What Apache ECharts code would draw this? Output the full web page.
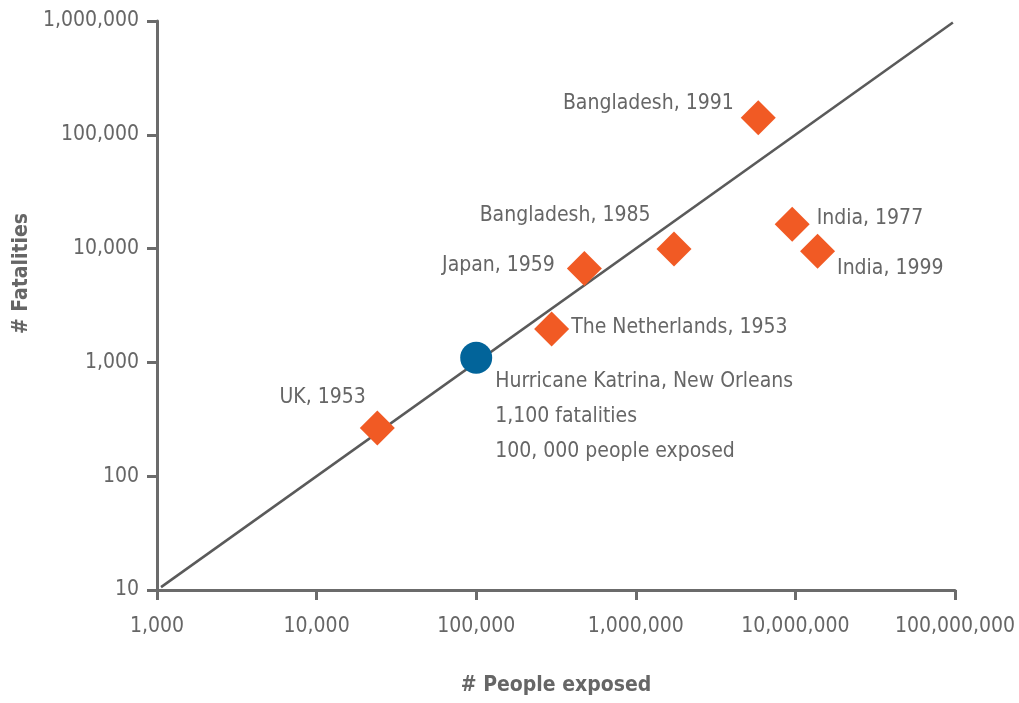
<!DOCTYPE html>
<html>
<head>
<meta charset="utf-8">
<style>
  html, body { margin: 0; padding: 0; background: #ffffff; }
  #chart { width: 1019px; height: 703px; }
</style>
<script src="https://cdn.jsdelivr.net/npm/echarts@6/dist/echarts.min.js"></script>
</head>
<body>
<div id="chart"></div>
<script>
// Storm-surge events: people exposed vs. fatalities
const eventNames = ['UK, 1953', 'The Netherlands, 1953', 'Japan, 1959', 'Bangladesh, 1985',
                    'Bangladesh, 1991', 'India, 1977', 'India, 1999'];
const peopleExposed = [24000, 297000, 476000, 1735000, 5850000, 9550000, 13770000];
const fatalities = [265, 1965, 6700, 9900, 141000, 16400, 9470];

// Hurricane Katrina, New Orleans
const katrinaExposed = 100000;
const katrinaFatalities = 1100;
const katrinaText = ['Hurricane Katrina, New Orleans', '1,100 fatalities', '100, 000 people exposed'];

// 1% fatality reference line endpoints
const refLineExposed = [1060, 97000000];
const refLineFatalities = [10.6, 970000];

const xTicks = [1000, 10000, 100000, 1000000, 10000000, 100000000];
const yTicks = [10, 100, 1000, 10000, 100000, 1000000];

// label placement for each event (side of marker and pixel nudge)
const labelPlacement = {
  'UK, 1953':              { side: 'left',  offset: [6, -30] },
  'The Netherlands, 1953': { side: 'right', offset: [2, -1] },
  'Japan, 1959':           { side: 'left',  offset: [-12, -3] },
  'Bangladesh, 1985':      { side: 'left',  offset: [-6, -34] },
  'Bangladesh, 1991':      { side: 'left',  offset: [-7, -14] },
  'India, 1977':           { side: 'right', offset: [7, -6] },
  'India, 1999':           { side: 'right', offset: [2, 17] }
};

const FONT = "'Liberation Sans Narrow', 'DejaVu Sans Condensed', sans-serif";
const FS = 21;
const TEXT = '#666666';
const AXIS = '#6b6b6b';

const fmt = v => Number(v).toLocaleString('en-US');

const eventData = eventNames.map((n, i) => {
  const p = labelPlacement[n];
  return {
    name: n,
    value: [peopleExposed[i], fatalities[i]],
    label: { position: p.side, offset: p.offset }
  };
});

const chart = echarts.init(document.getElementById('chart'), null, { renderer: 'canvas' });
chart.setOption({
  animation: false,
  backgroundColor: '#ffffff',
  textStyle: { fontFamily: FONT },
  grid: { left: 157, right: 64, top: 21, bottom: 113, containLabel: false, outerBoundsMode: 'none' },
  xAxis: {
    type: 'log', logBase: 10, min: xTicks[0], max: xTicks[xTicks.length - 1],
    name: '# People exposed', nameLocation: 'middle', nameGap: 85,
    nameTextStyle: { fontFamily: FONT, fontSize: FS, fontWeight: 'bold', color: TEXT },
    axisLine: { show: true, lineStyle: { color: AXIS, width: 3 } },
    axisTick: { show: true, inside: false, length: 10, lineStyle: { color: AXIS, width: 3 } },
    minorTick: { show: false },
    splitLine: { show: false },
    axisLabel: { margin: 26, fontFamily: FONT, fontSize: FS, color: TEXT, formatter: fmt }
  },
  yAxis: {
    type: 'log', logBase: 10, min: yTicks[0], max: yTicks[yTicks.length - 1],
    name: '# Fatalities', nameLocation: 'middle', nameGap: 107, nameRotate: 90,
    nameTextStyle: { fontFamily: FONT, fontSize: FS, fontWeight: 'bold', color: TEXT, padding: [0, 0, 0, 64] },
    axisLine: { show: true, lineStyle: { color: AXIS, width: 3 } },
    axisTick: { show: true, inside: false, length: 10, lineStyle: { color: AXIS, width: 3 } },
    minorTick: { show: false },
    splitLine: { show: false },
    axisLabel: { margin: 18, fontFamily: FONT, fontSize: FS, color: TEXT, formatter: fmt }
  },
  series: [
    {
      type: 'line',
      data: refLineExposed.map((x, i) => [x, refLineFatalities[i]]),
      showSymbol: false,
      symbol: 'none',
      lineStyle: { color: '#5a5a5a', width: 2.5 },
      silent: true,
      z: 1
    },
    {
      type: 'scatter',
      symbol: 'diamond',
      symbolSize: 35,
      itemStyle: { color: '#f15a24', opacity: 1 },
      label: {
        show: true, distance: 0, formatter: '{b}',
        fontFamily: FONT, fontSize: FS, color: TEXT
      },
      data: eventData,
      z: 3
    },
    {
      type: 'scatter',
      symbol: 'circle',
      symbolSize: 32,
      itemStyle: { color: '#02649a', opacity: 1 },
      label: {
        show: true, position: 'right', distance: 0, offset: [3, 59],
        align: 'left', lineHeight: 35,
        formatter: katrinaText.join('\n'),
        fontFamily: FONT, fontSize: FS, color: TEXT
      },
      data: [{ name: 'Hurricane Katrina, New Orleans', value: [katrinaExposed, katrinaFatalities] }],
      z: 4
    }
  ]
});
</script>
</body>
</html>
